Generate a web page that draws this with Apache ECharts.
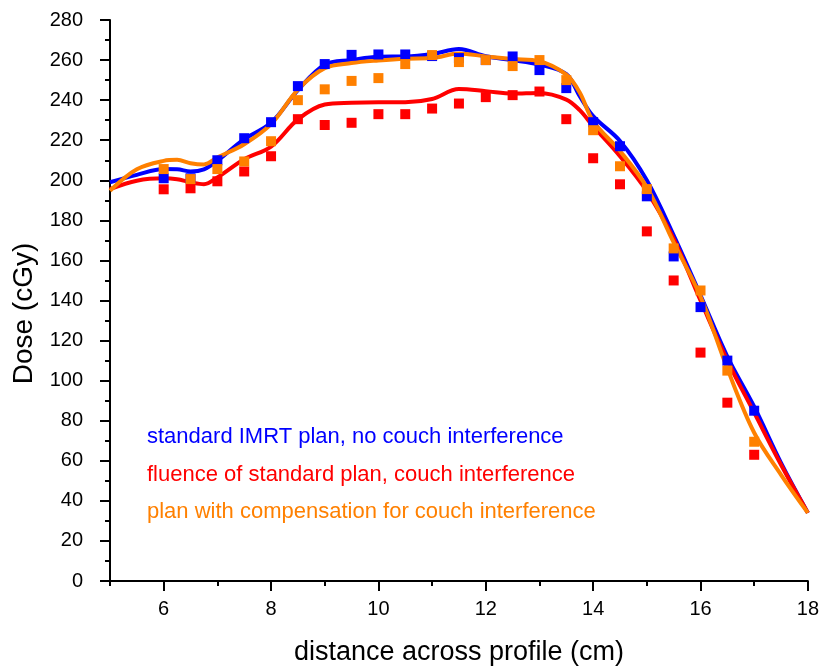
<!DOCTYPE html>
<html>
<head>
<meta charset="utf-8">
<script src="https://cdn.jsdelivr.net/npm/echarts@6/dist/echarts.min.js"></script>
<style>
  html, body { margin: 0; padding: 0; background: #fff; }
  #chart { width: 822px; height: 671px; }
</style>
</head>
<body>
<div id="chart"></div>
<script>
// dose profile data
const lineX = [5, 5.5, 6, 6.25, 6.5, 6.75, 7, 7.5, 8, 8.5, 9, 9.5, 10, 10.5, 11, 11.5, 12, 12.5, 13, 13.5, 13.75, 14, 14.5, 15, 15.5, 16, 16.5, 17, 17.5, 18];
const blueLine = [199, 202.7, 205.6, 205.5, 204.4, 205.5, 209.7, 220.5, 228.7, 245, 257.7, 260, 261.7, 261.8, 263, 265.5, 261.9, 260, 257.7, 253, 242, 232, 219.6, 200, 172.5, 142.6, 112, 87, 59, 34];
const redLine = [195.6, 199.8, 201, 200.5, 199, 198, 201.4, 210.5, 216.8, 230.4, 237.8, 238.7, 239, 239, 240.6, 245.5, 244.5, 243.3, 243.6, 240.3, 235, 227, 212, 194.5, 170.8, 140, 110, 84, 58, 34];
const orangeLine = [194.8, 205.5, 209.7, 210.2, 208.5, 207.9, 211.4, 218, 228, 245.3, 256, 258.5, 259.8, 260.7, 261, 263.3, 261.8, 260.5, 259.4, 252.7, 243.8, 229.5, 214.6, 196.5, 169, 142, 106, 74, 53, 34];

const dotX = [6, 6.5, 7, 7.5, 8, 8.5, 9, 9.5, 10, 10.5, 11, 11.5, 12, 12.5, 13, 13.5, 14, 14.5, 15, 15.5, 16, 16.5, 17];
const blueDots = [201, 201, 210, 221, 229, 247, 258, 262.6, 262.8, 262.8, 262, 261, 260, 261.8, 255, 246, 229, 217, 192, 162, 136.7, 110, 85];
const redDots = [195.5, 196, 199.5, 204.4, 212, 230.5, 227.6, 228.7, 233, 233, 235.8, 238.3, 241.5, 242.5, 244.3, 230.5, 211, 198, 174.5, 150, 114, 89, 63];
const orangeDots = [205.6, 200.6, 205.6, 209.4, 219.5, 240, 245.4, 249.6, 251, 258, 262.5, 259, 260, 257, 260, 250, 225, 207, 195.6, 166, 145, 105, 69.5];

const seriesNames = [
  'standard IMRT plan, no couch interference',
  'fluence of standard plan, couch interference',
  'plan with compensation for couch interference'
];
const colors = ['#0000ff', '#ff0000', '#ff8000'];

const xMajor = [6, 8, 10, 12, 14, 16, 18];
const xMinor = [5, 7, 9, 11, 13, 15, 17];

const pair = (xs, ys) => xs.map((x, i) => [x, ys[i]]);

const chart = echarts.init(document.getElementById('chart'));

const font = 'Liberation Sans, Arial, sans-serif';

function lineSeries(ys, c) {
  return {
    type: 'line',
    data: pair(lineX, ys),
    smooth: 0.35,
    showSymbol: false,
    lineStyle: { color: c, width: 4 },
    silent: true,
    z: 2
  };
}
function dotSeries(ys, c) {
  return {
    type: 'scatter',
    data: pair(dotX, ys),
    symbol: 'rect',
    symbolSize: 10,
    itemStyle: { color: c, opacity: 1 },
    silent: true,
    z: 3
  };
}

chart.setOption({
  animation: false,
  backgroundColor: '#fff',
  grid: { left: 110, right: 12, top: 20, bottom: 86 },
  xAxis: [
    {
      type: 'value', min: 5, max: 18,
      name: 'distance across profile (cm)',
      nameLocation: 'middle', nameGap: 58,
      nameTextStyle: { fontFamily: font, fontSize: 27, color: '#000' },
      axisLine: { lineStyle: { color: '#000', width: 2 } },
      axisTick: { customValues: xMajor, length: 10, lineStyle: { color: '#000', width: 2 } },
      axisLabel: { customValues: xMajor, margin: 18, fontFamily: font, fontSize: 20, color: '#000' },
      splitLine: { show: false }
    },
    {
      type: 'value', min: 5, max: 18, position: 'bottom',
      axisLine: { show: false },
      axisTick: { customValues: xMinor, length: 5, lineStyle: { color: '#000', width: 2 } },
      axisLabel: { show: false },
      splitLine: { show: false }
    }
  ],
  yAxis: {
    type: 'value', min: 0, max: 280, interval: 20,
    name: 'Dose (cGy)',
    nameLocation: 'middle', nameGap: 68,
    nameTextStyle: { fontFamily: font, fontSize: 28, color: '#000', padding: [0, 26, 0, 0] },
    axisLine: { show: true, lineStyle: { color: '#000', width: 2 } },
    axisTick: { show: true, length: 10, lineStyle: { color: '#000', width: 2 } },
    minorTick: { show: true, splitNumber: 2, length: 5, lineStyle: { color: '#000', width: 2 } },
    axisLabel: { margin: 27, fontFamily: font, fontSize: 20, color: '#000' },
    splitLine: { show: false }
  },
  graphic: seriesNames.map((t, i) => ({
    type: 'text',
    left: 147,
    top: 426 + i * 37.5,
    style: { text: t, fill: colors[i], font: '22px ' + font }
  })),
  series: [
    lineSeries(blueLine, colors[0]),
    lineSeries(redLine, colors[1]),
    lineSeries(orangeLine, colors[2]),
    dotSeries(blueDots, colors[0]),
    dotSeries(redDots, colors[1]),
    dotSeries(orangeDots, colors[2])
  ]
});
</script>
</body>
</html>
